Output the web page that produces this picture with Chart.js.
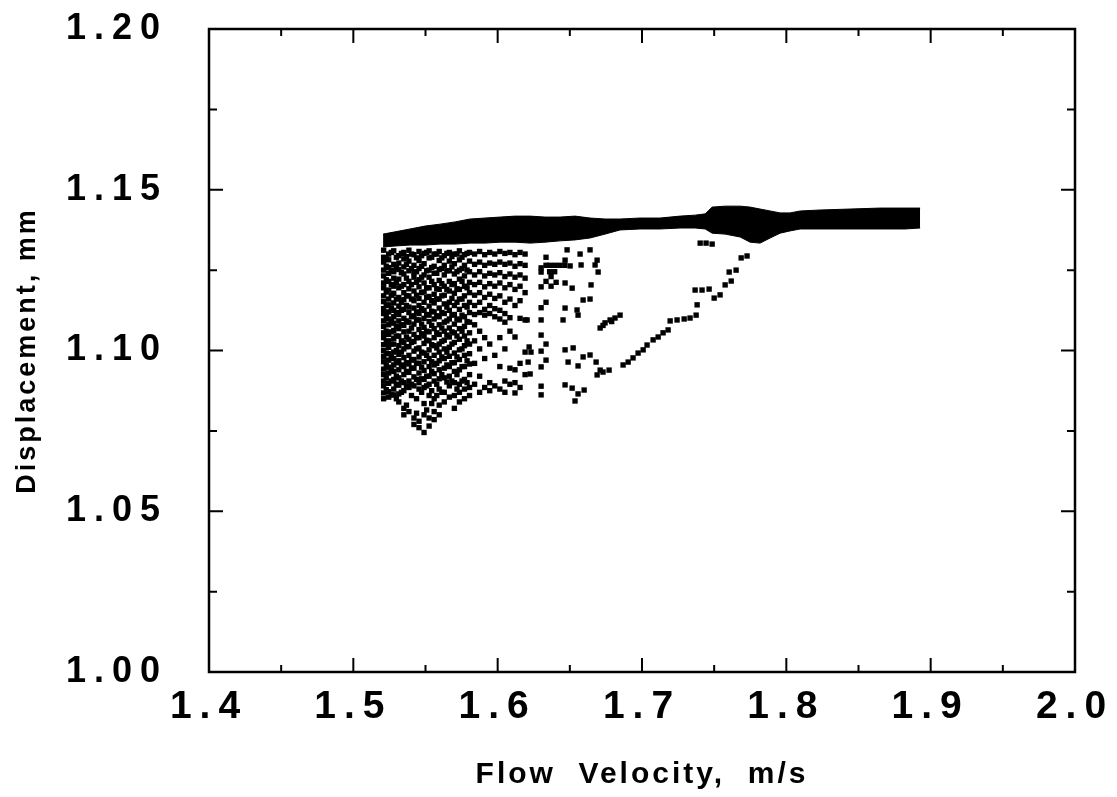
<!DOCTYPE html>
<html>
<head>
<meta charset="utf-8">
<script src="https://cdn.jsdelivr.net/npm/chart.js@4.4.1/dist/chart.umd.min.js"></script>
<style>
  html, body { margin: 0; padding: 0; background: #fff; }
  #wrap { width: 1117px; height: 797px; }
</style>
</head>
<body>
<div id="wrap"><canvas id="chart" width="1117" height="797"></canvas></div>
<script>
// axis ticks
const xTicks = [1.4, 1.5, 1.6, 1.7, 1.8, 1.9, 2.0];
const xMinor = [1.45, 1.55, 1.65, 1.75, 1.85, 1.95];
const yTicks = [1.00, 1.05, 1.10, 1.15, 1.20];
const yMinor = [1.025, 1.075, 1.125, 1.175];

// the solid upper branch (lower and upper edge of the black band)
const bandV = [1.5206, 1.5289, 1.5393, 1.5497, 1.5601, 1.5705, 1.5809, 1.5913, 1.6017, 1.6121, 1.6225, 1.6328,
  1.6432, 1.6536, 1.6640, 1.6744, 1.6848, 1.6987, 1.7125, 1.7264, 1.7368, 1.7438, 1.7486, 1.7576, 1.7680, 1.7749,
  1.7818, 1.7888, 1.7957, 1.8026, 1.8096, 1.8234, 1.8442, 1.8650, 1.8823, 1.8927];
const bandUpper = [1.1362, 1.1369, 1.1378, 1.1387, 1.1393, 1.1400, 1.1409, 1.1412, 1.1415, 1.1418, 1.1418, 1.1415,
  1.1415, 1.1418, 1.1412, 1.1409, 1.1409, 1.1412, 1.1412, 1.1418, 1.1421, 1.1425, 1.1446, 1.1449, 1.1449, 1.1446,
  1.1440, 1.1434, 1.1428, 1.1428, 1.1434, 1.1437, 1.1440, 1.1443, 1.1443, 1.1443];
const bandLower = [1.1322, 1.1325, 1.1328, 1.1328, 1.1331, 1.1331, 1.1334, 1.1334, 1.1337, 1.1337, 1.1334, 1.1337,
  1.1341, 1.1344, 1.1350, 1.1362, 1.1375, 1.1378, 1.1378, 1.1381, 1.1381, 1.1378, 1.1365, 1.1362, 1.1353, 1.1337,
  1.1334, 1.1350, 1.1365, 1.1372, 1.1378, 1.1378, 1.1378, 1.1378, 1.1378, 1.1381];

// chaotic cloud: flow velocity of each column and the displacements seen there
const cloudV = [1.5210, 1.5245, 1.5280, 1.5315, 1.5350, 1.5385, 1.5420, 1.5455, 1.5490, 1.5525, 1.5560, 1.5595,
  1.5630, 1.5665, 1.5700, 1.5735, 1.5770, 1.5805, 1.5840, 1.5875, 1.5910, 1.5945, 1.5980, 1.6015, 1.6050, 1.6085,
  1.6120, 1.6155, 1.6190];
const cloudY = [
  [1.1312, 1.1290, 1.1275, 1.1250, 1.1232, 1.1210, 1.1195, 1.1170, 1.1152, 1.1130, 1.1115, 1.1092, 1.1075, 1.1055, 1.1040, 1.1018, 1.1000, 1.0982, 1.0965, 1.0942, 1.0925, 1.0905, 1.0890, 1.0868, 1.0850],
  [1.1300, 1.1282, 1.1258, 1.1240, 1.1215, 1.1188, 1.1160, 1.1142, 1.1120, 1.1098, 1.1080, 1.1050, 1.1030, 1.1010, 1.0990, 1.0970, 1.0948, 1.0930, 1.0898, 1.0872, 1.0855],
  [1.1310, 1.1268, 1.1245, 1.1225, 1.1200, 1.1178, 1.1148, 1.1125, 1.1105, 1.1085, 1.1062, 1.1038, 1.1020, 1.0995, 1.0975, 1.0955, 1.0935, 1.0910, 1.0880, 1.0862],
  [1.1295, 1.1272, 1.1252, 1.1222, 1.1195, 1.1165, 1.1138, 1.1112, 1.1092, 1.1068, 1.1045, 1.1015, 1.0988, 1.0968, 1.0940, 1.0915, 1.0892, 1.0865, 1.0840],
  [1.1305, 1.1285, 1.1260, 1.1238, 1.1205, 1.1180, 1.1158, 1.1128, 1.1100, 1.1078, 1.1058, 1.1025, 1.1005, 1.0978, 1.0950, 1.0925, 1.0900, 1.0875, 1.0820, 1.0800],
  [1.1312, 1.1278, 1.1248, 1.1215, 1.1192, 1.1170, 1.1135, 1.1118, 1.1088, 1.1060, 1.1035, 1.1012, 1.0985, 1.0958, 1.0932, 1.0905, 1.0885, 1.0810],
  [1.1298, 1.1265, 1.1242, 1.1228, 1.1185, 1.1155, 1.1132, 1.1108, 1.1082, 1.1050, 1.1028, 1.0998, 1.0972, 1.0945, 1.0918, 1.0890, 1.0790, 1.0770],
  [1.1308, 1.1280, 1.1255, 1.1220, 1.1198, 1.1162, 1.1140, 1.1115, 1.1095, 1.1065, 1.1040, 1.1008, 1.0980, 1.0960, 1.0930, 1.0900, 1.0880, 1.0780, 1.0760],
  [1.1302, 1.1270, 1.1235, 1.1210, 1.1182, 1.1150, 1.1125, 1.1100, 1.1072, 1.1045, 1.1022, 1.0992, 1.0965, 1.0938, 1.0910, 1.0885, 1.0835, 1.0800, 1.0745],
  [1.1310, 1.1288, 1.1250, 1.1228, 1.1195, 1.1168, 1.1138, 1.1110, 1.1090, 1.1058, 1.1030, 1.1002, 1.0975, 1.0950, 1.0920, 1.0895, 1.0860, 1.0790, 1.0765],
  [1.1300, 1.1262, 1.1240, 1.1205, 1.1175, 1.1148, 1.1120, 1.1098, 1.1068, 1.1040, 1.1015, 1.0985, 1.0955, 1.0928, 1.0905, 1.0850, 1.0810, 1.0785],
  [1.1308, 1.1280, 1.1252, 1.1218, 1.1190, 1.1160, 1.1132, 1.1105, 1.1080, 1.1050, 1.1020, 1.0995, 1.0968, 1.0940, 1.0912, 1.0880, 1.0830, 1.0800],
  [1.1295, 1.1265, 1.1235, 1.1200, 1.1172, 1.1145, 1.1115, 1.1088, 1.1060, 1.1032, 1.1005, 1.0975, 1.0945, 1.0915, 1.0870, 1.0840],
  [1.1305, 1.1278, 1.1248, 1.1215, 1.1185, 1.1150, 1.1125, 1.1098, 1.1070, 1.1042, 1.1010, 1.0982, 1.0950, 1.0920, 1.0890, 1.0855],
  [1.1300, 1.1270, 1.1238, 1.1208, 1.1178, 1.1140, 1.1112, 1.1082, 1.1055, 1.1025, 1.0992, 1.0962, 1.0935, 1.0900, 1.0860, 1.0820],
  [1.1310, 1.1282, 1.1250, 1.1222, 1.1190, 1.1160, 1.1128, 1.1095, 1.1068, 1.1035, 1.1002, 1.0972, 1.0940, 1.0895, 1.0870, 1.0840],
  [1.1298, 1.1265, 1.1232, 1.1200, 1.1170, 1.1140, 1.1105, 1.1075, 1.1045, 1.1015, 1.0985, 1.0950, 1.0910, 1.0880, 1.0850],
  [1.1305, 1.1278, 1.1245, 1.1212, 1.1180, 1.1150, 1.1118, 1.1088, 1.1055, 1.1020, 1.0990, 1.0958, 1.0925, 1.0885, 1.0860],
  [1.1300, 1.1268, 1.1235, 1.1205, 1.1172, 1.1140, 1.1112, 1.1080, 1.1030, 1.0960, 1.0895],
  [1.1308, 1.1275, 1.1245, 1.1212, 1.1180, 1.1150, 1.1118, 1.1060, 1.1005, 1.0920, 1.0870],
  [1.1298, 1.1265, 1.1232, 1.1198, 1.1165, 1.1128, 1.1110, 1.1040, 1.0975, 1.0885],
  [1.1305, 1.1272, 1.1240, 1.1208, 1.1175, 1.1140, 1.1115, 1.1020, 1.0900, 1.0875],
  [1.1300, 1.1268, 1.1235, 1.1200, 1.1162, 1.1130, 1.1105, 1.0985, 1.0890],
  [1.1308, 1.1275, 1.1242, 1.1210, 1.1170, 1.1125, 1.1098, 1.1040, 1.0950, 1.0880],
  [1.1302, 1.1268, 1.1230, 1.1195, 1.1150, 1.1115, 1.1088, 1.1005, 1.0905, 1.0870],
  [1.1305, 1.1272, 1.1238, 1.1205, 1.1160, 1.1102, 1.1060, 1.0945, 1.0895],
  [1.1298, 1.1262, 1.1228, 1.1190, 1.1140, 1.1042, 1.0940, 1.0900, 1.0868],
  [1.1305, 1.1270, 1.1235, 1.1200, 1.1155, 1.1100, 1.0960, 1.0885],
  [1.1300, 1.1265, 1.1225, 1.1180, 1.1095, 1.0995, 1.0925]
];

// in-between columns of the densest part of the cloud
const cloudV2 = [1.5228, 1.5263, 1.5298, 1.5333, 1.5368, 1.5403, 1.5438, 1.5473, 1.5508, 1.5543, 1.5578, 1.5613,
  1.5648, 1.5683, 1.5718, 1.5753, 1.5788];
const cloudY2 = [
  [1.1285, 1.1262, 1.1220, 1.1182, 1.1140, 1.1105, 1.1060, 1.1025, 1.0992, 1.0955, 1.0915, 1.0878],
  [1.1305, 1.1250, 1.1205, 1.1172, 1.1132, 1.1090, 1.1058, 1.1020, 1.0980, 1.0940, 1.0905, 1.0862],
  [1.1290, 1.1258, 1.1212, 1.1160, 1.1118, 1.1075, 1.1045, 1.1000, 1.0962, 1.0920, 1.0895, 1.0850],
  [1.1302, 1.1242, 1.1200, 1.1150, 1.1125, 1.1080, 1.1030, 1.0995, 1.0955, 1.0905, 1.0870],
  [1.1292, 1.1268, 1.1225, 1.1170, 1.1140, 1.1092, 1.1042, 1.1012, 1.0962, 1.0935, 1.0890, 1.0830],
  [1.1300, 1.1255, 1.1205, 1.1160, 1.1105, 1.1070, 1.1025, 1.0970, 1.0945, 1.0895, 1.0860],
  [1.1288, 1.1245, 1.1212, 1.1172, 1.1120, 1.1095, 1.1040, 1.1005, 1.0960, 1.0910, 1.0850, 1.0805],
  [1.1295, 1.1262, 1.1228, 1.1180, 1.1130, 1.1082, 1.1052, 1.0995, 1.0948, 1.0912, 1.0870],
  [1.1305, 1.1248, 1.1195, 1.1165, 1.1112, 1.1060, 1.1032, 1.0985, 1.0920, 1.0890, 1.0815],
  [1.1290, 1.1258, 1.1215, 1.1155, 1.1122, 1.1078, 1.1018, 1.0965, 1.0935, 1.0875, 1.0835],
  [1.1300, 1.1240, 1.1192, 1.1160, 1.1108, 1.1055, 1.1008, 1.0960, 1.0895, 1.0860],
  [1.1288, 1.1255, 1.1208, 1.1170, 1.1118, 1.1070, 1.1028, 1.0980, 1.0925, 1.0870],
  [1.1302, 1.1248, 1.1190, 1.1135, 1.1092, 1.1048, 1.0995, 1.0955, 1.0902],
  [1.1292, 1.1260, 1.1205, 1.1162, 1.1110, 1.1058, 1.1020, 1.0962, 1.0905],
  [1.1300, 1.1245, 1.1192, 1.1150, 1.1098, 1.1045, 1.0980, 1.0925, 1.0880],
  [1.1290, 1.1255, 1.1215, 1.1160, 1.1110, 1.1060, 1.1005, 1.0950, 1.0905],
  [1.1302, 1.1250, 1.1195, 1.1135, 1.1090, 1.1030, 1.0968, 1.0900]
];

// scattered points right of the cloud and the falling branch
const sparseV = [1.6204, 1.6218, 1.6231, 1.6211, 1.6225,
  1.6301, 1.6301, 1.6301, 1.6301, 1.6301, 1.6301, 1.6301, 1.6301, 1.6301, 1.6301,
  1.6335, 1.6335, 1.6335, 1.6335, 1.6335, 1.6335,
  1.6360, 1.6395, 1.6430, 1.6465, 1.6360, 1.6395, 1.6370, 1.6405, 1.6370,
  1.6481, 1.6571, 1.6640, 1.6689, 1.6467, 1.6502, 1.6578, 1.6675, 1.6696, 1.6467, 1.6516, 1.6647,
  1.6592, 1.6640, 1.6467, 1.6550, 1.6557, 1.6453,
  1.6710, 1.6744, 1.6779, 1.6813, 1.6848, 1.6730, 1.6790,
  1.7195, 1.7243, 1.7292, 1.7333,
  1.6467, 1.6523, 1.6592, 1.6640, 1.6488, 1.6557, 1.6682, 1.6710,
  1.6869, 1.6904, 1.6938, 1.6973, 1.7008,
  1.7035, 1.7077, 1.7112, 1.7146, 1.7181,
  1.6689, 1.6730, 1.6772,
  1.6467, 1.6516, 1.6557, 1.6599, 1.6536,
  1.7375, 1.7368, 1.7416, 1.7465, 1.7382, 1.7500, 1.7541, 1.7576, 1.7618, 1.7604, 1.7652, 1.7687, 1.7728,
  1.7403, 1.7444, 1.7486];
const sparseY = [1.1095, 1.1011, 1.0995, 1.0964, 1.0927,
  1.1257, 1.1244, 1.1198, 1.1133, 1.1095, 1.1048, 1.0998, 1.0949, 1.0889, 1.0862,
  1.1290, 1.1265, 1.1215, 1.1150, 1.1020, 1.0970,
  1.1265, 1.1265, 1.1265, 1.1265, 1.1245, 1.1245, 1.1230, 1.1212, 1.1200,
  1.1313, 1.1300, 1.1313, 1.1281, 1.1281, 1.1263, 1.1266, 1.1266, 1.1244, 1.1210, 1.1194, 1.1204,
  1.1157, 1.1160, 1.1132, 1.1126, 1.1110, 1.1095,
  1.1070, 1.1086, 1.1095, 1.1101, 1.1110, 1.1078, 1.1090,
  1.1092, 1.1095, 1.1098, 1.1101,
  1.1002, 1.1008, 1.0980, 1.0986, 1.0964, 1.0952, 1.0964, 1.0939,
  1.0955, 1.0964, 1.0977, 1.0992, 1.1002,
  1.1017, 1.1033, 1.1042, 1.1055, 1.1064,
  1.0924, 1.0933, 1.0939,
  1.0893, 1.0883, 1.0865, 1.0877, 1.0843,
  1.1110, 1.1188, 1.1188, 1.1191, 1.1142, 1.1163, 1.1173, 1.1204, 1.1216, 1.1244, 1.1250, 1.1288, 1.1294,
  1.1334, 1.1334, 1.1331];

const FONT = "'Liberation Sans', Arial, Helvetica, sans-serif";

const cloudPoints = [];
cloudV.forEach((v, i) => {
  cloudY[i].forEach(d => cloudPoints.push({ x: v, y: d }));
});
cloudV2.forEach((v, i) => {
  cloudY2[i].forEach(d => cloudPoints.push({ x: v, y: d }));
});
const sparsePoints = sparseV.map((v, i) => ({ x: v, y: sparseY[i] }));

// Frame round the plot and inward tick marks on all four sides
const frameTicks = {
  id: 'frameTicks',
  beforeDraw(chart) {
    chart.ctx.letterSpacing = '3px'; // axis titles
  },
  afterDatasetsDraw(chart) {
    const { ctx, chartArea: a, scales: { x, y } } = chart;
    ctx.save();
    ctx.strokeStyle = '#000';
    ctx.lineWidth = 2.5;
    ctx.strokeRect(a.left, a.top, a.right - a.left, a.bottom - a.top);
    ctx.lineWidth = 2;
    ctx.beginPath();
    function xMark(v, len) {
      const px = x.getPixelForValue(v);
      ctx.moveTo(px, a.bottom); ctx.lineTo(px, a.bottom - len);
      ctx.moveTo(px, a.top); ctx.lineTo(px, a.top + len);
    }
    function yMark(v, len) {
      const py = y.getPixelForValue(v);
      ctx.moveTo(a.left, py); ctx.lineTo(a.left + len, py);
      ctx.moveTo(a.right, py); ctx.lineTo(a.right - len, py);
    }
    xTicks.forEach(v => xMark(v, 14));
    xMinor.forEach(v => xMark(v, 7));
    yTicks.forEach(v => yMark(v, 14));
    yMinor.forEach(v => yMark(v, 8));
    ctx.stroke();
    ctx.restore();
    ctx.letterSpacing = '8px'; // tick labels are drawn after this (ticks.z = 1)
  },
  afterDraw(chart) {
    chart.ctx.letterSpacing = '0px';
  }
};

const ctx = document.getElementById('chart').getContext('2d');
new Chart(ctx, {
  type: 'scatter',
  data: {
    datasets: [
      {
        type: 'line',
        data: bandV.map((v, i) => ({ x: v, y: bandLower[i] })),
        borderColor: '#000',
        borderWidth: 1,
        pointRadius: 0,
        fill: false
      },
      {
        type: 'line',
        data: bandV.map((v, i) => ({ x: v, y: bandUpper[i] })),
        borderColor: '#000',
        borderWidth: 1,
        pointRadius: 0,
        backgroundColor: '#000',
        fill: '-1'
      },
      {
        data: cloudPoints,
        pointStyle: 'rect',
        pointRadius: 3.8,
        pointBorderWidth: 0,
        backgroundColor: '#000'
      },
      {
        data: sparsePoints,
        pointStyle: 'rect',
        pointRadius: 3.8,
        pointBorderWidth: 0,
        backgroundColor: '#000'
      }
    ]
  },
  options: {
    responsive: false,
    animation: false,
    events: [],
    layout: { padding: { left: 0, top: 29, right: 42, bottom: 0 } },
    plugins: {
      legend: { display: false },
      tooltip: { enabled: false }
    },
    scales: {
      x: {
        type: 'linear',
        min: 1.4,
        max: 2.0,
        afterBuildTicks: s => { s.ticks = xTicks.map(v => ({ value: v })); },
        afterFit: s => { s.height = 125; s.paddingLeft = 0; s.paddingRight = 0; },
        grid: { display: false, drawTicks: false },
        border: { display: false },
        ticks: {
          z: 1,
          padding: 12,
          color: '#000',
          font: { family: FONT, size: 39, weight: 'bold' },
          maxRotation: 0,
          callback: v => v.toFixed(1)
        },
        title: {
          display: true,
          text: 'Flow  Velocity,  m/s',
          color: '#000',
          font: { family: FONT, size: 30, weight: 'bold' },
          padding: { top: 0, bottom: 4 }
        }
      },
      y: {
        type: 'linear',
        min: 1.0,
        max: 1.2,
        afterBuildTicks: s => { s.ticks = yTicks.map(v => ({ value: v })); },
        afterFit: s => { s.width = 209; s.paddingTop = 0; s.paddingBottom = 0; },
        grid: { display: false, drawTicks: false },
        border: { display: false },
        ticks: {
          z: 1,
          padding: 41,
          color: '#000',
          font: { family: FONT, size: 36, weight: 'bold' },
          callback: v => v.toFixed(2)
        },
        title: {
          display: true,
          text: 'Displacement, mm',
          color: '#000',
          font: { family: FONT, size: 27, weight: 'bold' },
          padding: { top: 11, bottom: 0 }
        }
      }
    }
  },
  plugins: [frameTicks]
});
</script>
</body>
</html>
